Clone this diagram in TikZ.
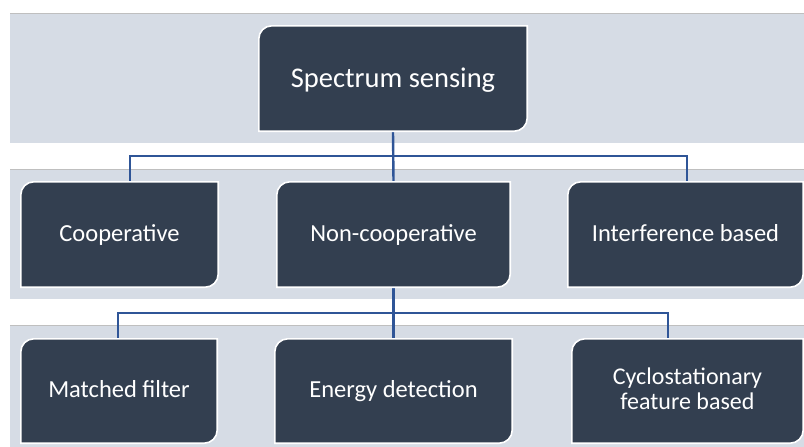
\documentclass[tikz,border=0pt]{standalone}
\usepackage{fontspec}
\setmainfont{Carlito}
\pgfdeclarelayer{bands}
\pgfdeclarelayer{links}
\pgfdeclarelayer{shapes}
\pgfsetlayers{bands,links,shapes,main}
\definecolor{bandfill}{HTML}{D6DCE5}
\definecolor{bandedge}{HTML}{BFBFBF}
\definecolor{boxfill}{HTML}{333F50}
\definecolor{linkblue}{HTML}{2F5597}
\newlength\tabr
\setlength\tabr{13pt}
% box with rounded top-left and bottom-right corners
\newcommand\tabshape[1]{%
  \begin{pgfonlayer}{shapes}
    \path[tabfill] (#1.south west) -- ([yshift=-\tabr]#1.north west)
      arc[start angle=180,end angle=90,radius=\tabr] -- (#1.north east)
      -- ([yshift=\tabr]#1.south east)
      arc[start angle=0,end angle=-90,radius=\tabr] -- cycle;
  \end{pgfonlayer}}
\tikzset{
  tabbox/.style={minimum height=105pt, inner sep=0pt, text=white, align=center,
    font=\fontsize{24.5}{25}\selectfont},
  oneline/.style={text height=17pt, text depth=4pt},
  tabfill/.style={fill=boxfill, draw=white, line width=1.6pt},
  conn/.style={draw=linkblue, line width=2.4pt},
  band/.style={fill=bandfill},
  bandline/.style={draw=bandedge, line width=1pt}
}
\begin{document}
\begin{tikzpicture}[x=1pt,y=1pt]
\useasboundingbox (0,0) rectangle (804,-447);
\clip (0,0) rectangle (804,-447);

% page and background bands
\begin{pgfonlayer}{bands}
  \fill[white] (0,0) rectangle (804,-447);
  \foreach \t/\b in {13/143,169/299,325/470} {
    \path[band] (10,-\t) rectangle (830,-\b);
    \path[bandline] (10,-\t) -- (830,-\t);
  }
\end{pgfonlayer}

% nodes
\node[tabbox, minimum width=268pt, text height=19pt, text depth=2pt,
      font=\fontsize{28.5}{32}\selectfont] (root) at (393,-78.5) {Spectrum sensing};
\node[tabbox, oneline, minimum width=197pt] (coop) at (119.5,-234.5) {Cooperative};
\node[tabbox, oneline, minimum width=233pt] (noncoop) at (393.5,-234.5) {Non-cooperative};
\node[tabbox, oneline, minimum width=235pt] (inter) at (685.5,-234.5) {Interference based};
\node[tabbox, oneline, minimum width=196pt, minimum height=104pt] (mf) at (119,-391) {Matched filter};
\node[tabbox, oneline, minimum width=237pt, minimum height=104pt] (ed) at (393.5,-391) {Energy detection};
\node[tabbox, minimum width=231pt, minimum height=104pt, text depth=5pt,
      font=\fontsize{24}{25}\selectfont]
  (cf) at (687.5,-391) {Cyclostationary\\feature based};

\foreach \n in {root,coop,noncoop,inter,mf,ed,cf} {\tabshape{\n}}

% connectors
\coordinate (bus1) at (393,-156);
\coordinate (bus2) at (393,-313);
\begin{pgfonlayer}{links}
  \draw[conn] (root.south) -- (noncoop.north);
  \draw[conn] ([xshift=10.5pt]coop.north) |- (bus1) -| ([xshift=1.5pt]inter.north);
  \draw[conn] (noncoop.south) -- (ed.north);
  \draw[conn] ([xshift=-1pt]mf.north) |- (bus2) -| ([xshift=-19.5pt]cf.north);
\end{pgfonlayer}
\end{tikzpicture}
\end{document}
